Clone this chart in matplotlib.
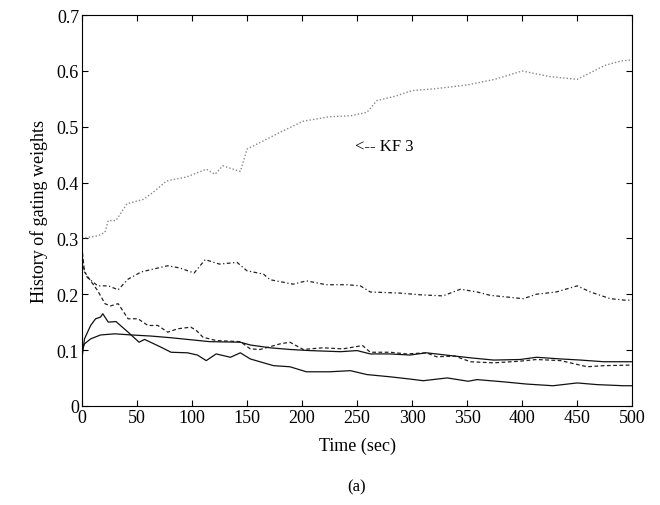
import numpy as np
import matplotlib
matplotlib.use('Agg')
import matplotlib.pyplot as plt

plt.rcParams['font.family'] = ['Liberation Serif', 'DejaVu Serif']

# KF 3 (dotted, grey)
t_kf3 = [0, 15, 21, 24, 31, 41, 56, 65, 77, 95, 113, 121, 128, 144, 150, 165, 180, 201,
         225, 245, 259, 268, 285, 300, 320, 350, 375, 400, 425, 450, 465, 475, 490, 500]
w_kf3 = [0.300, 0.305, 0.311, 0.332, 0.332, 0.362, 0.370, 0.383, 0.403, 0.410, 0.424, 0.415,
         0.430, 0.420, 0.460, 0.475, 0.490, 0.510, 0.518, 0.520, 0.526, 0.547, 0.555, 0.565,
         0.568, 0.575, 0.585, 0.600, 0.590, 0.585, 0.600, 0.610, 0.618, 0.620]

# dash-dot series
t_dd = [0, 1, 5, 14.5, 24, 33, 42, 54, 78, 89, 102, 112, 125, 141, 150, 165, 171, 192, 204,
        222, 241, 253, 262, 289, 307, 328, 344, 359, 371, 401, 413, 431, 450, 462, 480, 495, 500]
w_dd = [0.285, 0.250, 0.230, 0.215, 0.215, 0.208, 0.227, 0.240, 0.251, 0.247, 0.238, 0.262,
        0.254, 0.257, 0.242, 0.236, 0.226, 0.218, 0.224, 0.217, 0.217, 0.215, 0.204, 0.202,
        0.199, 0.197, 0.209, 0.204, 0.198, 0.192, 0.200, 0.204, 0.215, 0.204, 0.192, 0.189, 0.190]

# dashed series
t_da = [0, 2.4, 8, 14.5, 21, 26, 33, 42, 51, 60, 69, 78, 87, 99, 104, 110, 122, 144, 153, 162,
        180, 189, 201, 219, 237, 255, 262, 280, 295, 313, 322, 339, 353, 374, 398, 413, 435,
        459, 474, 500]
w_da = [0.285, 0.240, 0.224, 0.206, 0.183, 0.179, 0.183, 0.156, 0.156, 0.144, 0.144, 0.132,
        0.138, 0.141, 0.135, 0.123, 0.117, 0.115, 0.102, 0.101, 0.111, 0.114, 0.101, 0.104,
        0.102, 0.108, 0.096, 0.096, 0.093, 0.095, 0.088, 0.089, 0.079, 0.077, 0.080, 0.083,
        0.081, 0.070, 0.072, 0.073]

# solid series with early peak
t_s1 = [0, 2.4, 8, 12.5, 17, 19, 24, 31, 42, 52, 57, 72, 81, 96, 105, 113, 122, 135, 144,
        153, 174, 189, 204, 225, 244, 259, 280, 298, 310, 332, 351, 359, 383, 404, 428, 450,
        468, 492, 500]
w_s1 = [0.084, 0.120, 0.144, 0.156, 0.159, 0.165, 0.150, 0.151, 0.132, 0.114, 0.119, 0.105,
        0.096, 0.095, 0.091, 0.081, 0.093, 0.087, 0.095, 0.084, 0.072, 0.070, 0.061, 0.061,
        0.063, 0.056, 0.052, 0.048, 0.045, 0.050, 0.044, 0.047, 0.043, 0.039, 0.036, 0.041,
        0.038, 0.036, 0.036]

# smooth solid series
t_s2 = [0, 2.4, 8, 17, 30, 45, 63, 81, 96, 116, 144, 153, 171, 189, 207, 235, 250, 262, 280,
        298, 313, 335, 353, 374, 398, 413, 435, 453, 474, 500]
w_s2 = [0.099, 0.111, 0.120, 0.127, 0.129, 0.127, 0.125, 0.122, 0.119, 0.115, 0.114, 0.109,
        0.104, 0.101, 0.099, 0.097, 0.099, 0.093, 0.093, 0.091, 0.095, 0.090, 0.086, 0.082,
        0.083, 0.087, 0.084, 0.082, 0.079, 0.079]

fig = plt.figure(figsize=(6.6, 5.06), dpi=100)
ax = fig.add_axes([0.124, 0.196, 0.834, 0.772])

ax.plot(t_kf3, w_kf3, color='#888888', linestyle=(0, (1, 1.5)), linewidth=1.0)
ax.plot(t_dd, w_dd, color='#222222', linestyle=(0, (3, 2, 1, 2)), linewidth=0.9)
ax.plot(t_da, w_da, color='#222222', linestyle=(0, (3, 2)), linewidth=0.9)
ax.plot(t_s1, w_s1, color='#111111', linewidth=0.9)
ax.plot(t_s2, w_s2, color='#111111', linewidth=0.9)

ax.text(248, 0.465, '<-- KF 3', fontsize=12, va='center', ha='left')

ax.set_xlim(0, 500)
ax.set_ylim(0, 0.7)
ax.set_xticks(np.arange(0, 501, 50))
ax.set_yticks(np.arange(0, 0.71, 0.1))
ax.set_yticklabels(['0', '0.1', '0.2', '0.3', '0.4', '0.5', '0.6', '0.7'])
ax.tick_params(direction='in', top=True, right=True, labelsize=13, length=4, pad=2)
for s in ax.spines.values():
    s.set_linewidth(0.8)

ax.set_xlabel('Time (sec)', fontsize=13, labelpad=8)
ax.set_ylabel('History of gating weights', fontsize=13, labelpad=6)
fig.text(0.541, 0.028, '(a)', fontsize=12, ha='center')

fig.savefig('out.png', dpi=100)
